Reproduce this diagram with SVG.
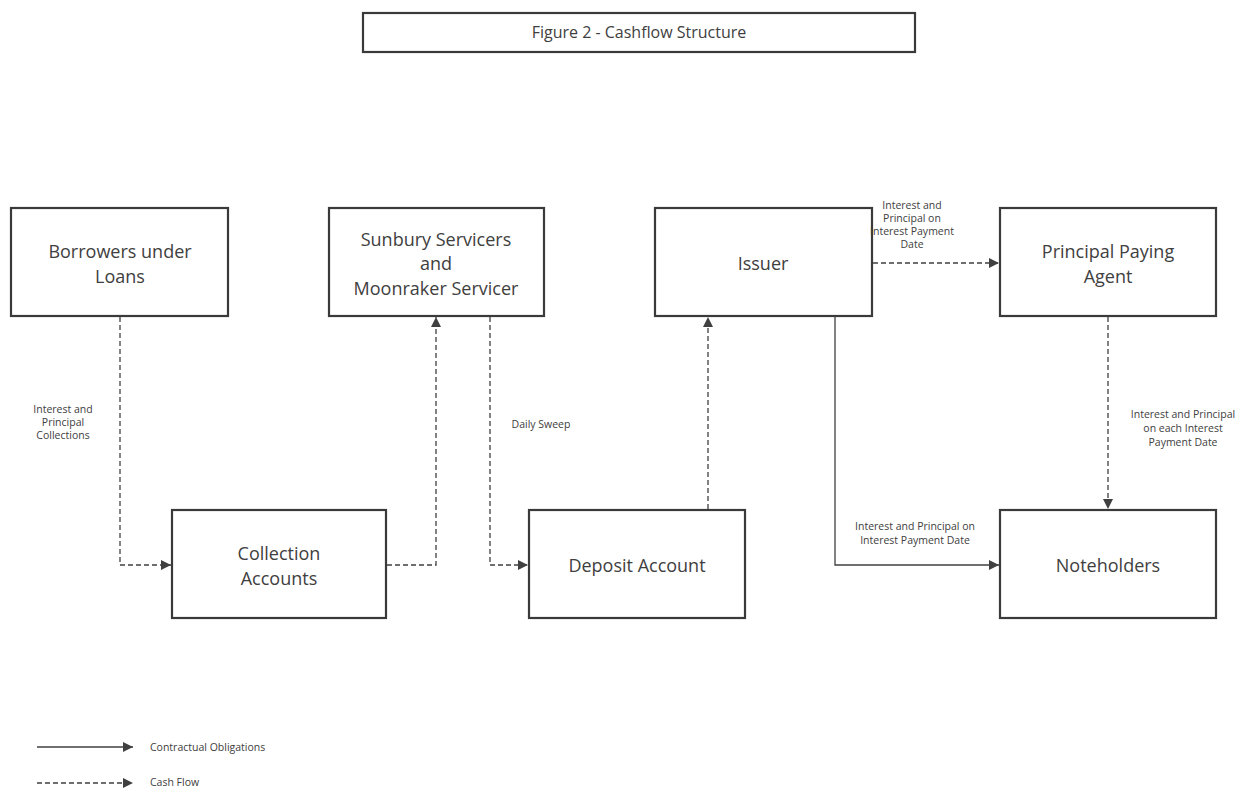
<svg xmlns="http://www.w3.org/2000/svg" width="1239" height="789" viewBox="0 0 1239 789">
<style>
.box{fill:#fff;stroke:#3a3a3a;stroke-width:2.2}
.t{font-family:"Open Sans","Noto Sans",sans-serif;fill:#404040;text-anchor:middle}
.n{font-size:18px}
.s{font-size:10.5px}
.c{fill:none;stroke:#404040;stroke-width:1.3}
.d{stroke-dasharray:5 3}
</style>
<defs>
<marker id="ah" viewBox="0 0 10 10" refX="10" refY="5" markerWidth="10" markerHeight="10" markerUnits="userSpaceOnUse" orient="auto">
<path d="M0,0 L10,5 L0,10 Z" fill="#404040"/>
</marker>
</defs>
<rect width="1239" height="789" fill="#fff"/>
<g id="title">
<rect class="box" x="363" y="13" width="552" height="39"/>
<text class="t" x="639" y="38" font-size="16">Figure 2 - Cashflow Structure</text>
</g>
<g id="borrowers">
<rect class="box" x="11" y="208" width="217" height="108"/>
<text class="t n" x="120" y="258">Borrowers under</text>
<text class="t n" x="120" y="283">Loans</text>
</g>
<g id="servicers">
<rect class="box" x="329" y="208" width="215" height="108"/>
<text class="t n" x="436" y="246">Sunbury Servicers</text>
<text class="t n" x="436" y="270">and</text>
<text class="t n" x="436" y="295">Moonraker Servicer</text>
</g>
<g id="issuer">
<rect class="box" x="655" y="208" width="217" height="108"/>
<text class="t n" x="763" y="270">Issuer</text>
</g>
<g id="ppa">
<rect class="box" x="1000" y="208" width="216" height="108"/>
<text class="t n" x="1108" y="258">Principal Paying</text>
<text class="t n" x="1108" y="283">Agent</text>
</g>
<g id="collection">
<rect class="box" x="172" y="510" width="214" height="108"/>
<text class="t n" x="279" y="560">Collection</text>
<text class="t n" x="279" y="585">Accounts</text>
</g>
<g id="deposit">
<rect class="box" x="529" y="510" width="216" height="108"/>
<text class="t n" x="637" y="572">Deposit Account</text>
</g>
<g id="noteholders">
<rect class="box" x="1000" y="510" width="216" height="108"/>
<text class="t n" x="1108" y="572">Noteholders</text>
</g>
<g id="connectors">
<path class="c d" d="M120,317 V565 H171" marker-end="url(#ah)"/>
<path class="c d" d="M387,565 H436 V317" marker-end="url(#ah)"/>
<path class="c d" d="M490,317 V565 H528" marker-end="url(#ah)"/>
<path class="c d" d="M708,509 V317" marker-end="url(#ah)"/>
<path class="c d" d="M873,263 H999" marker-end="url(#ah)"/>
<path class="c d" d="M1108,317 V509" marker-end="url(#ah)"/>
<path class="c" d="M835,317 V565 H999" marker-end="url(#ah)"/>
<text class="t s" x="63" y="413">Interest and</text>
<text class="t s" x="63" y="426">Principal</text>
<text class="t s" x="63" y="439">Collections</text>
<text class="t s" x="541" y="428">Daily Sweep</text>
<text class="t s" x="912" y="209">Interest and</text>
<text class="t s" x="912" y="222">Principal on</text>
<text class="t s" x="912" y="235">Interest Payment</text>
<text class="t s" x="912" y="248">Date</text>
<text class="t s" x="1183" y="418">Interest and Principal</text>
<text class="t s" x="1183" y="432">on each Interest</text>
<text class="t s" x="1183" y="446">Payment Date</text>
<text class="t s" x="915" y="530">Interest and Principal on</text>
<text class="t s" x="915" y="544">Interest Payment Date</text>
</g>
<g id="legend">
<path class="c" d="M37,747 H133" marker-end="url(#ah)"/>
<text class="t s" x="150" y="751" style="text-anchor:start">Contractual Obligations</text>
<path class="c d" d="M37,783 H133" marker-end="url(#ah)"/>
<text class="t s" x="150" y="786" style="text-anchor:start">Cash Flow</text>
</g>
</svg>
